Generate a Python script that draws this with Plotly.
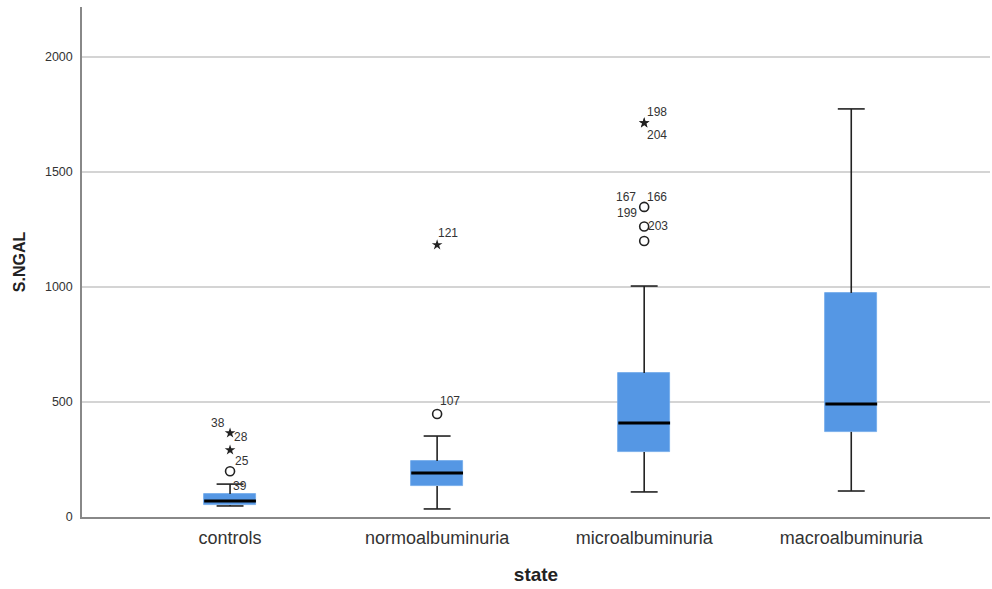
import plotly.graph_objects as go

# Groups and box-plot statistics for S.NGAL
categories = ["controls", "normoalbuminuria", "microalbuminuria", "macroalbuminuria"]
q1 = [52, 135, 283, 370]
median = [70, 191, 409, 491]
q3 = [100, 243, 626, 974]
whisker_low = [48, 35, 109, 113]
whisker_high = [143, 352, 1004, 1774]

# Outliers: (group index, value)
mild_group = [0, 1, 2, 2, 2]
mild_value = [199, 448, 1348, 1263, 1200]
extreme_group = [0, 0, 1, 2, 2]
extreme_value = [365, 291, 1183, 1713, 1713]

# Case-id labels: (group index, value, text, x shift px, y shift px)
label_group = [0, 0, 0, 0, 1, 1, 2, 2, 2, 2, 2, 2]
label_value = [365, 365, 291, 199, 1183, 448, 1713, 1713, 1348, 1348, 1348, 1263]
label_text = ["38", "28", "25", "39", "121", "107", "198", "204", "167", "166", "199", "203"]
label_dx = [-12, 11, 12, 10, 11, 13, 13, 13, -18, 13, -17, 14]
label_dy = [10, -4, -11, -15, 12, 13, 11, -12, 10, 10, -6, 0]

BOX_FILL = "#5597e4"
BOX_W = 0.25
CAP_W = 0.065
FONT = "Arial, Liberation Sans, sans-serif"

fig = go.Figure()

# Boxes (Q1 to Q3)
fig.add_trace(go.Bar(
    x=list(range(len(categories))),
    y=[b - a for a, b in zip(q1, q3)],
    base=q1,
    width=BOX_W,
    marker=dict(color=BOX_FILL, line=dict(color="#6fa8ea", width=0.8)),
    hoverinfo="skip",
    showlegend=False,
))

# Whiskers, caps and medians
wx, wy, mx, my = [], [], [], []
for i in range(len(categories)):
    wx += [i, i, None, i, i, None,
           i - CAP_W, i + CAP_W, None, i - CAP_W, i + CAP_W, None]
    wy += [whisker_low[i], q1[i], None, q3[i], whisker_high[i], None,
           whisker_low[i], whisker_low[i], None, whisker_high[i], whisker_high[i], None]
    mx += [i - BOX_W / 2, i + BOX_W / 2, None]
    my += [median[i], median[i], None]

fig.add_trace(go.Scatter(x=wx, y=wy, mode="lines",
                         line=dict(color="#222222", width=1.6),
                         hoverinfo="skip", showlegend=False))
fig.add_trace(go.Scatter(x=mx, y=my, mode="lines",
                         line=dict(color="#000000", width=3),
                         hoverinfo="skip", showlegend=False))

# Outlier markers
fig.add_trace(go.Scatter(x=mild_group, y=mild_value, mode="markers",
                         marker=dict(symbol="circle-open", size=9,
                                     color="#222222", line=dict(width=1.6)),
                         showlegend=False))
fig.add_trace(go.Scatter(x=extreme_group, y=extreme_value, mode="markers",
                         marker=dict(symbol="star", size=8, color="#222222"),
                         showlegend=False))

# Case-id labels beside outliers
for g, v, t, dx, dy in zip(label_group, label_value, label_text, label_dx, label_dy):
    fig.add_annotation(x=g, y=v, text=t, showarrow=False, xref="x", yref="y",
                       xshift=dx, yshift=dy,
                       font=dict(family=FONT, size=12, color="#333333"))

fig.update_layout(
    width=992, height=589,
    margin=dict(l=82, r=2, t=7, b=72),
    paper_bgcolor="white", plot_bgcolor="white",
    font=dict(family=FONT, color="#222222"),
    bargap=0,
)
fig.update_xaxes(
    range=[-0.715, 3.67],
    tickvals=list(range(len(categories))), ticktext=categories,
    tickfont=dict(size=18, color="#333333"),
    ticklabelstandoff=4,
    showgrid=False, zeroline=False,
    showline=True, linecolor="#888888", linewidth=1.5,
    ticks="",
    title=dict(text="<b>state</b>", font=dict(size=19, color="#222222"), standoff=20),
)
fig.update_yaxes(
    range=[0, 2217],
    tickvals=[0, 500, 1000, 1500, 2000],
    tickfont=dict(size=12.5, color="#333333"),
    ticklabelstandoff=5,
    showgrid=True, gridcolor="#d4d4d4", gridwidth=1.5,
    zeroline=False,
    showline=True, linecolor="#888888", linewidth=1.5,
    ticks="",
    title=dict(text="<b>S.NGAL</b>", font=dict(size=16, color="#222222"), standoff=15),
)

fig.write_html("out.html")
